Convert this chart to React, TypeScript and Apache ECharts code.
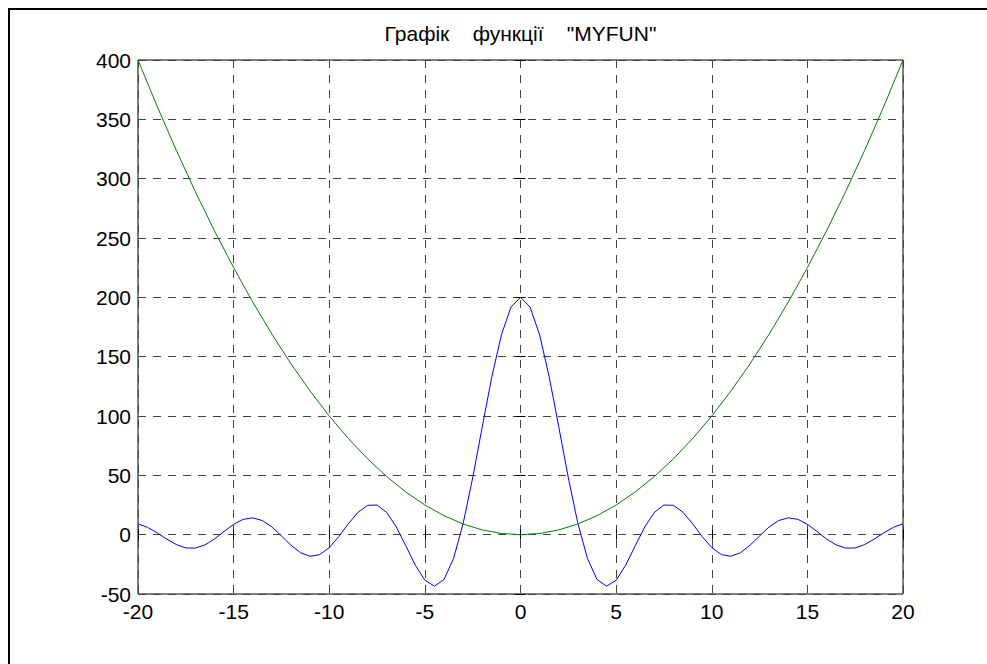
import React, { useEffect, useRef } from "react";
import * as echarts from "echarts";

const titleText = "Графік    функції    \"MYFUN\"";

const xTicks = { min: -20, max: 20, interval: 5 };
const yTicks = { min: -50, max: 400, interval: 50 };

const blueX = [
  -20, -19.5, -19, -18.5, -18, -17.5, -17, -16.5, -16, -15.5, -15, -14.5, -14, -13.5, -13, -12.5,
  -12, -11.5, -11, -10.5, -10, -9.5, -9, -8.5, -8, -7.5, -7, -6.5, -6, -5.5, -5, -4.5, -4, -3.5,
  -3, -2.5, -2, -1.5, -1, -0.5, 0, 0.5, 1, 1.5, 2, 2.5, 3, 3.5, 4, 4.5, 5, 5.5, 6, 6.5, 7, 7.5, 8,
  8.5, 9, 9.5, 10, 10.5, 11, 11.5, 12, 12.5, 13, 13.5, 14, 14.5, 15, 15.5, 16, 16.5, 17, 17.5, 18,
  18.5, 19, 19.5, 20,
];
const blueY = [
  9.1, 6.2, 1.6, -3.7, -8.3, -11.2, -11.3, -8.6, -3.6, 2.7, 8.7, 12.9, 14.2, 11.9, 6.5, -1.1,
  -8.9, -15.2, -18.2, -16.8, -10.9, -1.6, 9.2, 18.8, 24.7, 25.0, 18.8, 6.6, -9.3, -25.7, -38.4,
  -43.4, -37.8, -20.0, 9.4, 47.9, 90.9, 133.0, 168.3, 191.8, 200, 191.8, 168.3, 133.0, 90.9, 47.9,
  9.4, -20.0, -37.8, -43.4, -38.4, -25.7, -9.3, 6.6, 18.8, 25.0, 24.7, 18.8, 9.2, -1.6, -10.9,
  -16.8, -18.2, -15.2, -8.9, -1.1, 6.5, 11.9, 14.2, 12.9, 8.7, 2.7, -3.6, -8.6, -11.3, -11.2, -8.3,
  -3.7, 1.6, 6.2, 9.1,
];

const greenX = [
  -20, -19, -18, -17, -16, -15, -14, -13, -12, -11, -10, -9, -8, -7, -6, -5, -4, -3, -2, -1, 0, 1,
  2, 3, 4, 5, 6, 7, 8, 9, 10, 11, 12, 13, 14, 15, 16, 17, 18, 19, 20,
];
const greenY = [
  400, 361, 324, 289, 256, 225, 196, 169, 144, 121, 100, 81, 64, 49, 36, 25, 16, 9, 4, 1, 0, 1, 4,
  9, 16, 25, 36, 49, 64, 81, 100, 121, 144, 169, 196, 225, 256, 289, 324, 361, 400,
];

const FONT = "'Liberation Sans', Arial, Helvetica, sans-serif";

export default function App() {
  const ref = useRef<HTMLDivElement>(null);
  useEffect(() => {
    if (!ref.current) return;
    const chart = echarts.init(ref.current, undefined, { renderer: "svg" });
    const gridL = 138, gridT = 60, gridW = 765, gridH = 534;
    const labelStyle = { color: "#000", fontSize: 21, fontFamily: FONT };
    const splitLine = { show: true, lineStyle: { color: "#444", width: 1, type: [8, 7] as any } };
    const tick = { show: true, inside: true, length: 5, lineStyle: { color: "#000", width: 1 } };
    chart.setOption({
      animation: false,
      backgroundColor: "#fff",
      grid: { left: gridL, top: gridT, width: gridW, height: gridH, show: true, borderColor: "#000", borderWidth: 1, backgroundColor: "transparent" },
      xAxis: [
        { type: "value", ...xTicks, position: "bottom", axisLine: { show: false }, axisTick: tick, splitLine, axisLabel: { ...labelStyle, margin: 7 } },
        { type: "value", ...xTicks, position: "top", axisLine: { show: false }, axisTick: tick, splitLine: { show: false }, axisLabel: { show: false } },
      ],
      yAxis: [
        { type: "value", ...yTicks, position: "left", axisLine: { show: false }, axisTick: tick, splitLine, axisLabel: { ...labelStyle, margin: 7 } },
        { type: "value", ...yTicks, position: "right", axisLine: { show: false }, axisTick: tick, splitLine: { show: false }, axisLabel: { show: false } },
      ],
      series: [
        { type: "line", xAxisIndex: 0, yAxisIndex: 0, data: blueX.map((x, i) => [x, blueY[i]]), showSymbol: false, lineStyle: { color: "#0000ff", width: 1 }, z: 3 },
        { type: "line", xAxisIndex: 0, yAxisIndex: 0, data: greenX.map((x, i) => [x, greenY[i]]), showSymbol: false, lineStyle: { color: "#008000", width: 1 }, z: 3 },
      ],
      graphic: [
        { type: "rect", shape: { x: 9, y: 9, width: 2000, height: 2000 }, style: { fill: "none", stroke: "#000", lineWidth: 2 }, silent: true },
        { type: "text", x: gridL + gridW / 2, y: 33, style: { text: titleText, fill: "#000", font: `21px ${FONT}`, align: "center", verticalAlign: "middle" } },
      ],
    });
    return () => chart.dispose();
  }, []);
  return <div ref={ref} style={{ position: "absolute", left: 0, top: 0, width: 987, height: 664, background: "#fff" }} />;
}
